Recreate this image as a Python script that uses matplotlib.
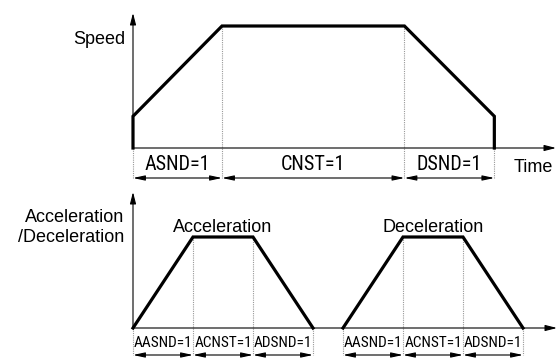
import matplotlib
matplotlib.use("Agg")
import matplotlib.pyplot as plt
from matplotlib import font_manager as fm

# ---- data (abstract units) ----
speed_t = [0.0, 0.0, 1.0, 3.05, 4.06, 4.06]
speed_v = [0.0, 0.26, 1.0, 1.0, 0.26, 0.0]
speed_bounds = [0.0, 1.0, 3.05, 4.06]
speed_labels = ["ASND=1", "CNST=1", "DSND=1"]

acc_t = [0.0, 1.0, 2.0, 3.0]
acc_v = [0.0, 1.0, 1.0, 0.0]
dec_t = [3.5, 4.5, 5.5, 6.5]
dec_v = [0.0, 1.0, 1.0, 0.0]
ad_labels = ["AASND=1", "ACNST=1", "ADSND=1"]
curve_names = ["Acceleration", "Deceleration"]

# ---- pick a narrow font if one exists ----
entries = fm.fontManager.ttflist
names = {f.name for f in entries}
narrow_kw = None
for cand in ["Liberation Sans Narrow", "Arial Narrow", "Roboto Condensed",
             "Open Sans Condensed", "Noto Sans Display"]:
    if cand in names:
        narrow_kw = dict(family=[cand, "DejaVu Sans"])
        break
if narrow_kw is None:
    cond = [f for f in entries if str(f.stretch) in ("condensed", "semi-condensed", "extra-condensed")
            or "Condensed" in f.name or "Narrow" in f.name]
    if cond:
        f = cond[0]
        narrow_kw = dict(family=[f.name, "DejaVu Sans"], stretch=f.stretch)
if narrow_kw is None:
    narrow_kw = dict(family=["Liberation Sans", "DejaVu Sans"])
    top_fs, bot_fs = 12, 9.5
else:
    top_fs, bot_fs = 14.5, 11

W, H = 557, 361
fig = plt.figure(figsize=(W / 100, H / 100), dpi=100)
SANS = ["Liberation Sans", "DejaVu Sans"]

# top axes: pixel rows 0..185
top_px = 185
ax1 = fig.add_axes([0, 1 - top_px / H, 1, top_px / H])
x0, sx1 = 133, 89.0
y0, sy1 = 148, 122.0
ax1.set_xlim(-x0 / sx1, (W - x0) / sx1)
ax1.set_ylim(-(top_px - y0) / sy1, y0 / sy1)
ax1.axis("off")

# bottom axes: pixel rows 185..361
ax2 = fig.add_axes([0, 0, 1, (H - top_px) / H])
sx2 = 60.0
yb, sy2 = 328, 91.0
ax2.set_xlim(-x0 / sx2, (W - x0) / sx2)
ax2.set_ylim(-(H - yb) / sy2, (yb - top_px) / sy2)
ax2.axis("off")

axis_arrow = dict(arrowstyle="-|>,head_length=0.7,head_width=0.18", color="black",
                  lw=0.8, shrinkA=0, shrinkB=0)
dim_arrow = dict(arrowstyle="<|-|>,head_length=0.7,head_width=0.15", color="black",
                 lw=0.8, shrinkA=0, shrinkB=0)

# ---- top: speed ----
xmax1 = (556 - x0) / sx1
ax1.annotate("", xy=(0, (y0 - 13) / sy1), xytext=(0, 0), arrowprops=axis_arrow)
ax1.annotate("", xy=(xmax1, 0), xytext=(0, 0), arrowprops=axis_arrow)
ax1.plot(speed_t, speed_v, color="black", lw=2.3, solid_joinstyle="miter", zorder=3)

dim_y1 = -(178 - y0) / sy1
lab_y1 = -(165 - y0) / sy1
for i, b in enumerate(speed_bounds):
    top = 1.0 if 0 < i < len(speed_bounds) - 1 else 0.0
    ax1.plot([b, b], [top, dim_y1], color="#999999", lw=0.8, ls=(0, (1, 1)), zorder=1)
for i, lab in enumerate(speed_labels):
    a, b = speed_bounds[i], speed_bounds[i + 1]
    ax1.annotate("", xy=(b, dim_y1), xytext=(a, dim_y1), arrowprops=dim_arrow)
    ax1.text((a + b) / 2, lab_y1, lab, ha="center", va="center", fontsize=top_fs,
             **narrow_kw)

ax1.text(-8 / sx1, (y0 - 39) / sy1, "Speed", ha="right", va="center", fontsize=13, family=SANS)
ax1.text((533 - x0) / sx1, -(168 - y0) / sy1, "Time", ha="center", va="center",
         fontsize=13, family=SANS)

# ---- bottom: acceleration / deceleration ----
xmax2 = (557 - x0) / sx2
ax2.annotate("", xy=(0, (yb - 192) / sy2), xytext=(0, 0), arrowprops=axis_arrow)
ax2.annotate("", xy=(xmax2, 0), xytext=(0, 0), arrowprops=axis_arrow)

dim_y2 = -(355 - yb) / sy2
lab_y2 = -(343 - yb) / sy2
for tt, vv, name in [(acc_t, acc_v, curve_names[0]), (dec_t, dec_v, curve_names[1])]:
    ax2.plot(tt, vv, color="black", lw=2.3, solid_joinstyle="miter", zorder=3)
    for b, v in zip(tt, vv):
        ax2.plot([b, b], [v, dim_y2], color="#999999", lw=0.8, ls=(0, (1, 1)), zorder=1)
    for i, lab in enumerate(ad_labels):
        a, b = tt[i], tt[i + 1]
        ax2.annotate("", xy=(b, dim_y2), xytext=(a, dim_y2), arrowprops=dim_arrow)
        ax2.text((a + b) / 2, lab_y2, lab, ha="center", va="center", fontsize=bot_fs,
                 **narrow_kw)
    ax2.text((tt[1] + tt[2]) / 2, 1.0 + 10 / sy2, name, ha="center", va="center",
             fontsize=13, family=SANS)

ax2.text(-9 / sx2, (yb - 218) / sy2, "Acceleration", ha="right", va="center",
         fontsize=13, family=SANS)
ax2.text(-9 / sx2, (yb - 238) / sy2, "/Deceleration", ha="right", va="center",
         fontsize=13, family=SANS)

fig.savefig("out.png", dpi=100)
